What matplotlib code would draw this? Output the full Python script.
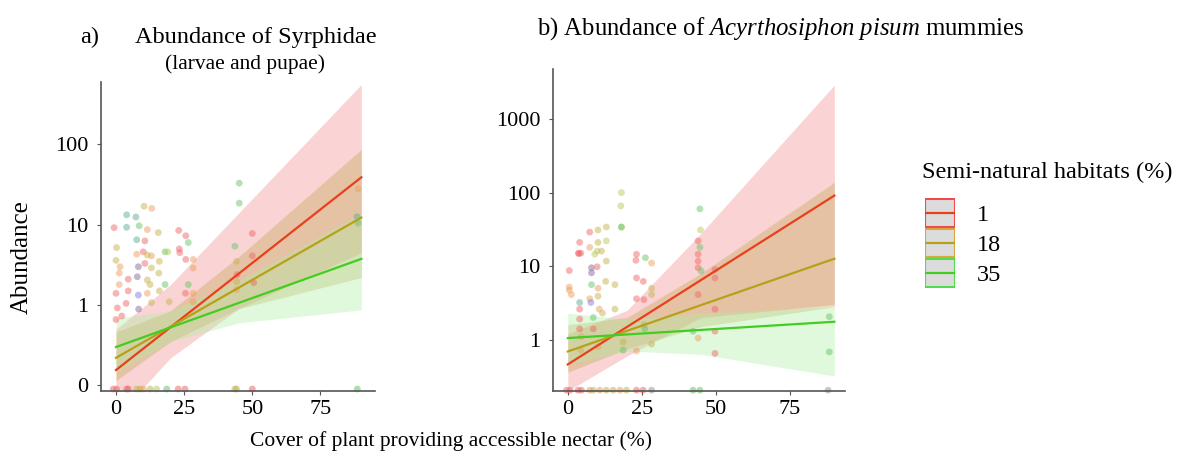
import matplotlib
matplotlib.use('Agg')
import matplotlib.pyplot as plt

plt.rcParams['font.family'] = ['Liberation Serif', 'DejaVu Serif']
plt.rcParams['mathtext.fontset'] = 'custom'
plt.rcParams['mathtext.rm'] = 'Liberation Serif'
plt.rcParams['mathtext.it'] = 'Liberation Serif:italic'

levels = ['1', '18', '35']
line_cols = ['#e8401c', '#b8a018', '#44cc22']
band_cols = ['#f5a0a0', '#b89a3a', '#a8f0a0']
band_alpha = [0.45, 0.3, 0.35]
edge_cols = ['#f04a4a', '#d8a840', '#50dd50']
pt_cols = {'r': '#f06a6a', 'o': '#eda060', 'y': '#c8b450', 'l': '#b8cc60',
           'g': '#6cc46c', 't': '#5fae94', 'p': '#8a6a9a', 'b': '#8080e0', 'k': '#9a9a9a'}

# fitted lines (x from 0 to 90)
line_x = [0, 90]
a_lines = [[0.155, 39], [0.22, 12.3], [0.30, 3.76]]
b_lines = [[0.46, 91], [0.69, 12.6], [1.05, 1.75]]

# confidence bands
band_x = [0, 20, 45, 90]
a_low = [[0.04, 0.22, 0.9, 4.5], [0.115, 0.35, 0.9, 2.2], [0.145, 0.35, 0.6, 0.87]]
a_up = [[0.5, 1.8, 14, 560], [0.46, 0.85, 4, 87], [0.69, 0.85, 2, 14]]
b_low = [[0.2, 0.6, 2, 3], [0.36, 0.75, 1.5, 2.8], [0.46, 0.7, 0.63, 0.32]]
b_up = [[1.2, 2.5, 28, 2900], [1.6, 2, 8, 138], [2.3, 1.9, 2.3, 2.8]]

# observed counts (panel a)
a_x = [-0.7, 0.2, 0, 1.5, 1.2, 0, 1.2, 0, 0.5, 2.1, 3.7, 4.5, 4.5, 3.9, 3.9, 7.3, 8.5, 7.6,
       7.6, 8.2, 7.8, 8.3, 8.2, 10.3, 13.1, 11.5, 10.6, 10, 11.5, 13, 10.6, 13, 11.5, 12.5,
       11.5, 13, 15.5, 15.9, 15.7, 15.9, 18, 19, 18, 19.5, 23, 25.6, 26.5, 23.2, 23.4, 25.6,
       28.3, 28.3, 25.5, 28.3, 26.5, 28.3, 43.6, 45.2, 45.2, 44.2, 44.4, 44.3, 44.2, 50, 50,
       50.5, 88.8, 88.4, 88.8]
a_y = [9.2, 5.2, 3.6, 3.0, 2.5, 1.4, 1.8, 0.66, 0.92, 0.73, 1.05, 2.1, 1.5, 9.3, 13.3, 12.5,
       9.7, 6.5, 4.3, 3.0, 2.25, 0.89, 1.33, 17, 16, 8.7, 6.3, 4.6, 4.2, 4.1, 3.3, 2.9, 2.05,
       1.8, 1.4, 1.07, 8, 3.5, 2.5, 1.5, 4.6, 4.6, 1.8, 1.1, 8.5, 7.3, 6.0, 5.0, 4.5, 3.7, 3.7,
       2.9, 1.4, 1.4, 1.8, 1.1, 5.4, 33, 18.6, 3.5, 2.4, 1.95, 1.55, 7.8, 4.1, 1.9, 28, 12.6,
       10.5]
a_c = ('ryyooror' 'rrrrr' 'tttgt' 'opppb' 'yoorryoryyyoy' 'yyyy' 'glgy' 'rrgrrroorogo'
       'gggyryo' 'rrr' 'otg')
a_zero_x = [-1, 0.2, 3.9, 4.5, 7.6, 8.8, 10, 12.5, 14.9, 18.6, 22.8, 25.3, 43.6, 44.2, 50, 88.5]
a_zero_c = 'rrrryyoylgrryyrg'

# observed counts (panel b)
b_x = [0.5, 0.5, 0.5, 1.2, 4, 4, 3.7, 3.6, 4.4, 4, 4, 4, 4.6, 4.4, 7.4, 7.4, 8, 8, 8, 7.4,
       7.8, 8.6, 8.6, 9.1, 9.9, 10.2, 10.2, 9.9, 10.2, 10.2, 10.6, 10.2, 11.4, 11.7, 13, 13,
       13, 12.8, 15.9, 15.9, 18.1, 17.9, 18.1, 18.1, 18.7, 18.7, 23.2, 23, 23.2, 23.2, 23.2,
       25.5, 25.7, 26.2, 25.8, 26, 28.3, 28.3, 28.3, 28.3, 42.3, 44, 44, 44, 44, 44, 44,
       44.6, 44.6, 44.8, 45, 49.7, 49.7, 49.7, 49.7, 49.7, 88.3, 88.3]
b_y = [8.7, 5.2, 4.7, 4.1, 3.2, 21, 14.8, 15, 15, 2.6, 1.9, 1.4, 1.1, 0.72, 29, 18, 9.5, 8.1,
       5.6, 3.6, 3.2, 2.0, 1.4, 14.5, 16, 21, 31, 9.8, 5.0, 3.9, 2.6, 0.8, 16, 2.3, 34, 22,
       11.7, 6.2, 2.6, 5.6, 100, 66, 34, 34, 0.72, 0.93, 14.5, 12, 6.9, 3.6, 0.7, 6.2, 3.5, 13,
       1.6, 1.4, 11, 5, 4.1, 0.87, 1.3, 22, 14.5, 11.7, 9.5, 4.1, 1.05, 18, 60, 31, 8.6, 9,
       6.9, 2.6, 1.3, 0.65, 2.05, 0.68]
b_c = ('roootrrrrrrroy' 'roppgobgr' 'llyyroyoo' 'yyylyyyy' 'lllggy' 'rrrro' 'rrgyg' 'oyyy'
       'g' 'rrrrro' 'gglg' 'rrrrr' 'gg')
b_zero_x = [-0.4, 0.7, 3.5, 4.6, 7.4, 8.6, 10.8, 13, 15.3, 17.6, 19.8, 23.2, 25.4, 28.3, 42.3,
            44.6, 87.9]
b_zero_c = 'rrrroyoyyoyrrkggk'

W, H = 1182, 459
fig = plt.figure(figsize=(W / 100, H / 100), dpi=100)
ax_a = fig.add_axes([101 / W, 1 - 391 / H, 274 / W, 309 / H])
ax_b = fig.add_axes([553 / W, 1 - 391 / H, 292 / W, 322 / H])


def draw_panel(ax, lines, lows, ups, px, py, pc, zx, zc, zero_y):
    for i in range(3):
        ax.fill_between(band_x, lows[i], ups[i], color=band_cols[i], alpha=band_alpha[i],
                        lw=0, zorder=1)
    ax.scatter(px, py, s=24, c=[pt_cols[c] for c in pc], alpha=0.5, lw=0, zorder=2)
    ax.scatter(zx, [zero_y] * len(zx), s=24, c=[pt_cols[c] for c in zc], alpha=0.55,
               lw=0, zorder=2, clip_on=False)
    for i in range(3):
        ax.plot(line_x, lines[i], color=line_cols[i], lw=1.6, zorder=3)
    ax.set_yscale('log')
    ax.minorticks_off()
    for s in ['top', 'right']:
        ax.spines[s].set_visible(False)
    for s in ['left', 'bottom']:
        ax.spines[s].set_color('#555555')
        ax.spines[s].set_linewidth(1.2)
    ax.tick_params(colors='#555555', labelcolor='black', labelsize=16, length=3)
    ax.tick_params(axis='y', pad=6)
    ax.set_xticks([0, 25, 50, 75])


draw_panel(ax_a, a_lines, a_low, a_up, a_x, a_y, a_c, a_zero_x, a_zero_c, 0.09)
ax_a.set_xlim(-5.5, 95)
ax_a.set_ylim(0.085, 600)
ax_a.set_yticks([0.1, 1, 10, 100])
ax_a.set_yticklabels(['0', '1', '10', '100'])

draw_panel(ax_b, b_lines, b_low, b_up, b_x, b_y, b_c, b_zero_x, b_zero_c, 0.205)
ax_b.set_xlim(-5, 93.6)
ax_b.set_ylim(0.2, 4800)
ax_b.set_yticks([1, 10, 100, 1000])
ax_b.set_yticklabels(['1', '10', '100', '1000'])

fig.text(80 / W, 1 - 37 / H, 'a)', fontsize=17.5, va='center')
fig.text(135 / W, 1 - 37 / H, 'Abundance of Syrphidae', fontsize=17.5, va='center')
fig.text(245 / W, 1 - 64 / H, '(larvae and pupae)', fontsize=15.5, va='center', ha='center')
fig.text(537 / W, 1 - 29 / H, r'b) Abundance of $\mathit{Acyrthosiphon\ pisum}$ mummies',
         fontsize=17.8, va='center')
fig.text(22 / W, 1 - 257 / H, 'Abundance', fontsize=18, rotation=90, va='center', ha='center')
fig.text(451 / W, 1 - 441 / H, 'Cover of plant providing accessible nectar (%)', fontsize=15.5,
         va='center', ha='center')

# legend: key boxes drawn as a tiny categorical axes
fig.text(922 / W, 1 - 172 / H, 'Semi-natural habitats (%)', fontsize=17.5, va='center')
ax_leg = fig.add_axes([925 / W, 1 - 288 / H, 30 / W, 90 / H])
ax_leg.barh(levels, 1, height=0.94, color='#dcdcdc', edgecolor=edge_cols, lw=1.5)
for i, lev in enumerate(levels):
    ax_leg.plot([0, 1], [i, i], color=line_cols[i], lw=1.6)
ax_leg.set_xlim(0, 1)
ax_leg.set_ylim(2.5, -0.5)
for s in ax_leg.spines.values():
    s.set_visible(False)
ax_leg.set_xticks([])
ax_leg.tick_params(axis='y', left=False, labelleft=False, right=False, labelright=True,
                   labelsize=17.5, pad=12)

fig.savefig('out.png', dpi=100)
